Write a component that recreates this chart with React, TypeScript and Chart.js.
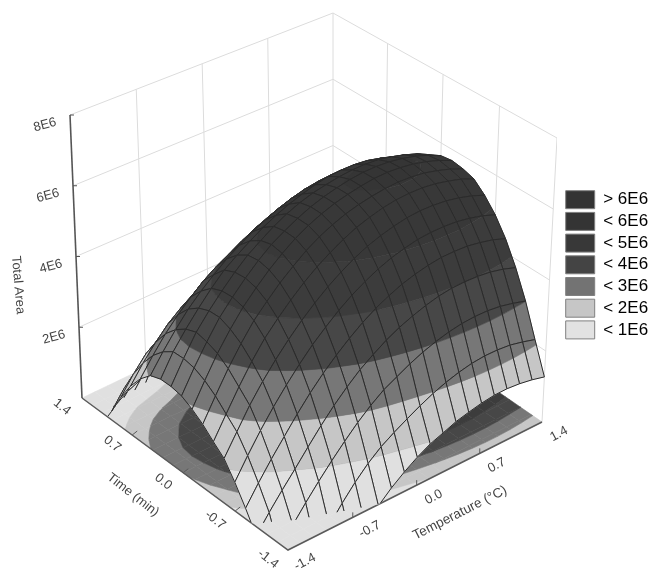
import React, { useEffect, useRef } from "react";
import { Chart, registerables } from "chart.js";
Chart.register(...registerables);

// Grid positions (coded units), same for Temperature and Time
const gridAxis = [-1.4, -1.26, -1.12, -0.98, -0.84, -0.7, -0.56, -0.42, -0.28, -0.14, 0, 0.14, 0.28, 0.42, 0.56, 0.7, 0.84, 0.98, 1.12, 1.26, 1.4];
// Total Area in units of 1E6, one row per Time value, one column per Temperature value
const area: number[][] = [
  [-3.34, -2.77, -2.23, -1.72, -1.25, -0.82, -0.42, -0.04, 0.27, 0.53, 0.76, 0.95, 1.08, 1.22, 1.31, 1.39, 1.44, 1.45, 1.42, 1.36, 1.27],
  [-2.31, -1.75, -1.21, -0.72, -0.26, 0.17, 0.56, 0.9, 1.18, 1.4, 1.6, 1.79, 1.96, 2.1, 2.21, 2.29, 2.33, 2.33, 2.3, 2.22, 2.12],
  [-1.3, -0.7, -0.1, 0.32, 0.72, 1.1, 1.46, 1.8, 2.1, 2.36, 2.55, 2.74, 2.9, 3.03, 3.13, 3.2, 3.23, 3.23, 3.19, 3.11, 3.01],
  [-0.25, 0.2, 0.62, 1.02, 1.44, 1.85, 2.23, 2.57, 2.88, 3.13, 3.36, 3.55, 3.7, 3.83, 3.93, 3.99, 4.01, 4.0, 3.96, 3.88, 3.76],
  [0.28, 0.78, 1.25, 1.69, 2.13, 2.54, 2.91, 3.24, 3.54, 3.81, 4.04, 4.23, 4.39, 4.51, 4.6, 4.66, 4.67, 4.66, 4.6, 4.52, 4.39],
  [0.77, 1.31, 1.82, 2.29, 2.72, 3.12, 3.49, 3.81, 4.11, 4.37, 4.59, 4.78, 4.93, 5.04, 5.13, 5.17, 5.18, 5.16, 5.1, 5.01, 4.88],
  [1.2, 1.75, 2.3, 2.78, 3.21, 3.6, 3.96, 4.28, 4.57, 4.82, 5.04, 5.22, 5.36, 5.47, 5.55, 5.59, 5.59, 5.56, 5.49, 5.39, 5.25],
  [1.45, 2.03, 2.6, 3.13, 3.6, 3.98, 4.33, 4.65, 4.93, 5.17, 5.38, 5.56, 5.69, 5.8, 5.87, 5.9, 5.9, 5.86, 5.78, 5.68, 5.53],
  [1.72, 2.32, 2.9, 3.42, 3.89, 4.26, 4.61, 4.91, 5.19, 5.42, 5.6, 5.75, 5.86, 5.94, 6.0, 6.03, 6.02, 5.98, 5.89, 5.78, 5.63],
  [1.93, 2.54, 3.12, 3.62, 4.07, 4.44, 4.78, 5.08, 5.34, 5.55, 5.72, 5.86, 5.96, 6.04, 6.1, 6.12, 6.1, 6.05, 5.96, 5.84, 5.68],
  [2.09, 2.69, 3.24, 3.75, 4.15, 4.52, 4.85, 5.14, 5.36, 5.56, 5.73, 5.86, 5.96, 6.04, 6.09, 6.1, 6.08, 6.02, 5.93, 5.8, 5.63],
  [2.15, 2.75, 3.31, 3.74, 4.13, 4.49, 4.81, 5.06, 5.3, 5.5, 5.66, 5.78, 5.86, 5.93, 5.97, 5.98, 5.95, 5.88, 5.78, 5.65, 5.47],
  [2.15, 2.74, 3.2, 3.62, 4.01, 4.36, 4.62, 4.86, 5.08, 5.27, 5.43, 5.56, 5.67, 5.75, 5.78, 5.78, 5.74, 5.65, 5.52, 5.36, 5.15],
  [2.05, 2.54, 2.99, 3.4, 3.74, 4.04, 4.32, 4.55, 4.77, 4.95, 5.12, 5.25, 5.35, 5.41, 5.44, 5.43, 5.39, 5.28, 5.14, 4.98, 4.78],
  [1.76, 2.24, 2.68, 3.05, 3.38, 3.68, 3.92, 4.12, 4.33, 4.52, 4.68, 4.81, 4.9, 4.96, 4.98, 4.96, 4.91, 4.82, 4.7, 4.55, 4.35],
  [1.36, 1.83, 2.24, 2.6, 2.88, 3.12, 3.38, 3.62, 3.84, 4.03, 4.18, 4.3, 4.39, 4.44, 4.45, 4.43, 4.37, 4.28, 4.15, 3.98, 3.79],
  [0.85, 1.32, 1.72, 1.98, 2.2, 2.47, 2.76, 3.02, 3.23, 3.42, 3.56, 3.68, 3.75, 3.79, 3.8, 3.77, 3.71, 3.61, 3.47, 3.3, 3.1],
  [0.25, 0.71, 1.05, 1.3, 1.52, 1.79, 2.07, 2.31, 2.52, 2.7, 2.84, 2.95, 3.02, 3.05, 3.05, 3.01, 2.94, 2.84, 2.69, 2.52, 2.3],
  [-0.3, 0.02, 0.25, 0.4, 0.64, 0.95, 1.22, 1.46, 1.66, 1.83, 1.97, 2.06, 2.13, 2.16, 2.15, 2.11, 2.03, 1.91, 1.76, 1.58, 1.36],
  [-0.9, -0.6, -0.41, -0.3, -0.2, 0.1, 0.37, 0.6, 0.8, 0.96, 1.09, 1.18, 1.24, 1.26, 1.24, 1.19, 1.11, 0.99, 0.83, 0.64, 0.42],
  [-2.18, -1.74, -1.52, -1.3, -1.1, -0.84, -0.58, -0.36, -0.16, -0.01, 0.11, 0.19, 0.24, 0.26, 0.24, 0.18, 0.09, -0.04, -0.2, -0.42, -0.63],
];

const bandEdges = [1, 2, 3, 4, 5, 6];
const bandColors = ["#e0e0e0", "#c6c6c6", "#777777", "#474747", "#3c3c3c", "#383838", "#353535"];
const legendLabels = ["> 6E6", "< 6E6", "< 5E6", "< 4E6", "< 3E6", "< 2E6", "< 1E6"];
const legendColors = ["#333333", "#343434", "#383838", "#444444", "#737373", "#c6c6c6", "#e2e2e2"];
const zTicks = [2, 4, 6, 8];
const zLabels = ["2E6", "4E6", "6E6", "8E6"];
const timeTicks = [1.4, 0.7, 0, -0.7, -1.4];
const timeLabels = ["1.4", "0.7", "0.0", "-0.7", "-1.4"];
const tempTicks = [-1.4, -0.7, 0, 0.7, 1.4];
const tempLabels = ["-1.4", "-0.7", "0.0", "0.7", "1.4"];

type P = [number, number];
const homography = (q: P[]) => {
  const [[x0, y0], [x1, y1], [x2, y2], [x3, y3]] = q;
  const dx1 = x1 - x2, dx2 = x3 - x2, sx = x0 - x1 + x2 - x3;
  const dy1 = y1 - y2, dy2 = y3 - y2, sy = y0 - y1 + y2 - y3;
  const den = dx1 * dy2 - dx2 * dy1;
  const g = (sx * dy2 - dx2 * sy) / den, h = (dx1 * sy - sx * dy1) / den;
  const a = x1 - x0 + g * x1, b = x3 - x0 + h * x3, d = y1 - y0 + g * y1, e = y3 - y0 + h * y3;
  return (u: number, v: number): P => {
    const w = g * u + h * v + 1;
    return [(a * u + b * v + x0) / w, (d * u + e * v + y0) / w];
  };
};
const floorMap = homography([[288, 550], [542, 422], [333, 278], [82, 398]]);
const topMap = homography([[287, 245], [557, 138], [333, 13], [70, 115]]);
const project = (T: number, t: number, z: number) => {
  const u = (T + 1.4) / 2.8, v = (t + 1.4) / 2.8;
  const a = floorMap(u, v), b = topMap(u, v), k = z / 8;
  return { x: a[0] + (b[0] - a[0]) * k, y: a[1] + (b[1] - a[1]) * k };
};

type V = { T: number; t: number; z: number };
const cut = (a: V, b: V, lv: number): V => {
  const k = (lv - a.z) / (b.z - a.z);
  return { T: a.T + (b.T - a.T) * k, t: a.t + (b.t - a.t) * k, z: lv };
};
const clip = (poly: V[], lv: number, keepAbove: boolean) => {
  const out: V[] = [];
  poly.forEach((a, i) => {
    const b = poly[(i + 1) % poly.length];
    const ina = keepAbove ? a.z >= lv : a.z <= lv;
    const inb = keepAbove ? b.z >= lv : b.z <= lv;
    if (ina) out.push(a);
    if (ina !== inb) out.push(cut(a, b, lv));
  });
  return out;
};

const buildDatasets = () => {
  const ds: any[] = [];
  const poly = (pts: V[], color: string, flat: boolean) =>
    ds.push({
      type: "scatter", polygon: true, polyColor: color, pointRadius: 0, showLine: false,
      data: pts.map((p) => project(p.T, p.t, flat ? 0 : p.z)),
    });
  const line = (a: { x: number; y: number }[], color: string, w: number) =>
    ds.push({ type: "scatter", showLine: true, borderColor: color, borderWidth: w, pointRadius: 0, data: a, fill: false });

  const wall = "#dcdcdc";
  zTicks.forEach((z) => {
    line([project(-1.4, 1.4, z), project(1.4, 1.4, z), project(1.4, -1.4, z)], wall, 1);
  });
  tempTicks.slice(1).forEach((T) => line([project(T, 1.4, 0), project(T, 1.4, 8)], wall, 1));
  timeTicks.slice(1, 4).forEach((t) => line([project(1.4, t, 0), project(1.4, t, 8)], wall, 1));
  line([project(1.4, -1.4, 0), project(1.4, -1.4, 8)], wall, 1);

  const quads: { i: number; j: number; d: number }[] = [];
  for (let j = 0; j < gridAxis.length - 1; j++)
    for (let i = 0; i < gridAxis.length - 1; i++) quads.push({ i, j, d: i + j });
  const cell = (i: number, j: number): V[] => [
    { T: gridAxis[i], t: gridAxis[j], z: area[j][i] },
    { T: gridAxis[i + 1], t: gridAxis[j], z: area[j][i + 1] },
    { T: gridAxis[i + 1], t: gridAxis[j + 1], z: area[j + 1][i + 1] },
    { T: gridAxis[i], t: gridAxis[j + 1], z: area[j + 1][i] },
  ];
  const bands = (q: V[], flat: boolean) => {
    bandColors.forEach((c, b) => {
      let pts = q;
      if (b > 0) pts = clip(pts, bandEdges[b - 1], true);
      if (b < bandEdges.length && pts.length) pts = clip(pts, bandEdges[b], false);
      if (pts.length > 2) poly(pts, c, flat);
    });
  };
  quads.forEach(({ i, j }) => bands(cell(i, j), true));
  line([project(-1.4, 1.4, 0), project(-1.4, -1.4, 0), project(1.4, -1.4, 0)], "#5a5a5a", 1.5);
  line([project(-1.4, 1.4, 0), project(-1.4, 1.4, 8)], "#555555", 1.6);
  timeTicks.slice(1, 4).forEach((t) => {
    const p = project(-1.4, t, 0);
    line([p, { x: p.x + 5, y: p.y - 4 }], "#5a5a5a", 1);
  });
  tempTicks.slice(1, 4).forEach((T) => {
    const p = project(T, -1.4, 0);
    line([p, { x: p.x, y: p.y - 5 }], "#5a5a5a", 1);
  });
  zTicks.forEach((z) => {
    const p = project(-1.4, 1.4, z);
    line([p, { x: p.x + 4, y: p.y }], "#555555", 1);
  });
  quads.sort((a, b) => b.d - a.d);
  quads.forEach(({ i, j }) => {
    const q = cell(i, j);
    const above = clip(q, 0, true);
    if (above.length < 3) return;
    bands(above, false);
    const segs: any[] = [];
    q.forEach((a, k) => {
      const b = q[(k + 1) % 4];
      if (a.z < 0 && b.z < 0) return;
      const s = a.z >= 0 ? a : cut(a, b, 0);
      const e = b.z >= 0 ? b : cut(a, b, 0);
      segs.push(project(s.T, s.t, s.z), project(e.T, e.t, e.z), { x: NaN, y: NaN });
    });
    line(segs, "#2a2a2a", 1);
  });
  ds.forEach((d, k) => (d.order = ds.length - k));
  return ds;
};

const polygonPlugin = {
  id: "polygonPlugin",
  afterLayout(chart: any) {
    const x = chart.scales.x;
    x.min = 0;
    x.max = chart.chartArea.right;
    x.configure();
    const l = chart.legend;
    const w = l.width, h = l.height;
    l.left = 562; l.right = 562 + w; l.top = 187; l.bottom = 187 + h;
  },
  afterDatasetDraw(chart: any, args: any) {
    const d = chart.data.datasets[args.index];
    if (!d.polygon) return;
    const pts = args.meta.data;
    const c = chart.ctx;
    c.save();
    c.beginPath();
    pts.forEach((p: any, k: number) => (k ? c.lineTo(p.x, p.y) : c.moveTo(p.x, p.y)));
    c.closePath();
    c.fillStyle = d.polyColor;
    c.strokeStyle = d.polyColor;
    c.lineWidth = 0.6;
    c.fill();
    c.stroke();
    c.restore();
  },
  afterDraw(chart: any) {
    const c = chart.ctx;
    const xs = chart.scales.x, ys = chart.scales.y;
    const label = (s: string, x: number, y: number, deg: number, size = 13) => {
      c.save();
      c.translate(xs.getPixelForValue(x), ys.getPixelForValue(y));
      c.rotate((deg * Math.PI) / 180);
      c.font = `${size}px "Liberation Sans"`;
      c.fillStyle = "#444444";
      c.textAlign = "center";
      c.textBaseline = "middle";
      c.fillText(s, 0, 0);
      c.restore();
    };
    zTicks.forEach((z, i) => {
      const p = project(-1.4, 1.4, z);
      label(zLabels[i], p.x - 25, p.y + 10, -15);
    });
    timeTicks.forEach((t, i) => {
      const p = project(-1.4, t, 0);
      label(timeLabels[i], p.x - 20, p.y + 9, 38);
    });
    tempTicks.forEach((T, i) => {
      const p = project(T, -1.4, 0);
      label(tempLabels[i], p.x + 17, p.y + 12, -28);
    });
    label("Total Area", 18, 285, 85, 13);
    label("Time (min)", 133, 495, 38, 13);
    label("Temperature (°C)", 460, 513, -27, 13.5);
  },
};

export default function App() {
  const ref = useRef<HTMLCanvasElement>(null);
  useEffect(() => {
    const chart = new Chart(ref.current as HTMLCanvasElement, {
      type: "scatter",
      data: { datasets: buildDatasets() },
      plugins: [polygonPlugin],
      options: {
        animation: false,
        responsive: false,
        events: [],
        layout: { padding: 0 },
        scales: {
          x: { type: "linear", display: false, min: 0, max: 653, bounds: "data" },
          y: { type: "linear", display: false, min: 0, max: 568, reverse: true, bounds: "data" },
        },
        plugins: {
          tooltip: { enabled: false },
          legend: {
            position: "right",
            align: "start",
            labels: {
              boxWidth: 29,
              boxHeight: 18,
              padding: 3.7,
              color: "#3a3a3a",
              font: { family: "Liberation Sans", size: 17 },
              generateLabels: () =>
                legendLabels.map((text, i) => ({
                  text,
                  fillStyle: legendColors[i],
                  strokeStyle: "#808080",
                  lineWidth: 1,
                  hidden: false,
                  datasetIndex: i,
                })),
            },
          },
        },
      } as any,
    });
    return () => chart.destroy();
  }, []);
  return (
    <div style={{ position: "absolute", left: 0, top: 0, width: 653, height: 568, background: "#fff" }}>
      <canvas ref={ref} width={653} height={568} style={{ display: "block", filter: "blur(0.5px)" }} />
    </div>
  );
}
